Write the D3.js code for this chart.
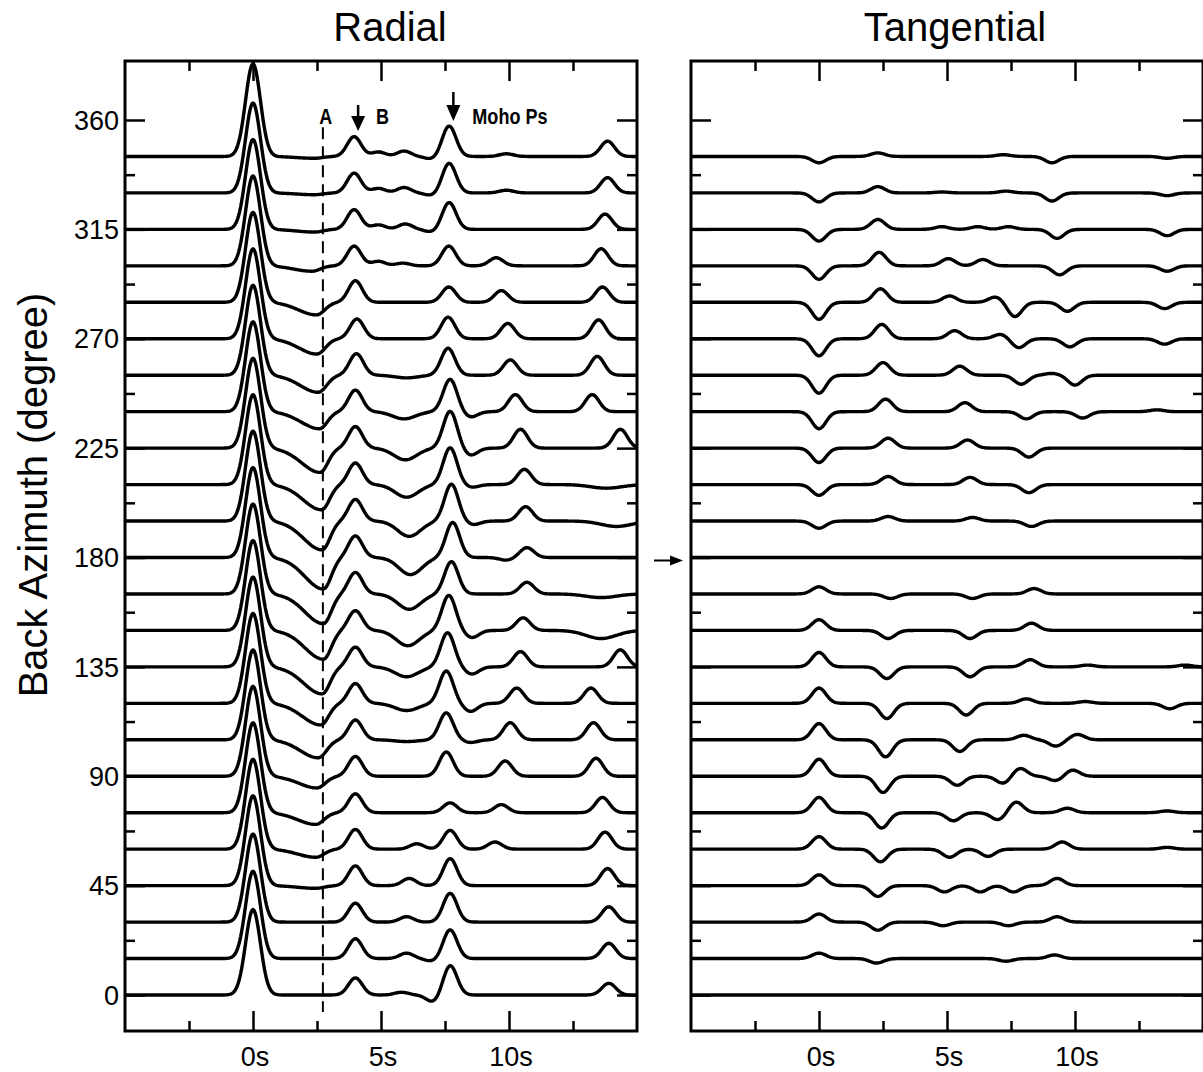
<!DOCTYPE html>
<html>
<head>
<meta charset="utf-8">
<script src="https://cdn.jsdelivr.net/npm/d3@7"></script>
<style>
  body { margin: 0; background: #fff; }
  svg { display: block; }
  text { font-family: "Liberation Sans", Arial, Helvetica, sans-serif; fill: #000; }
</style>
</head>
<body>
<script>
// Back azimuth of each stacked trace (degrees)
const backAzimuth = [0, 15, 30, 45, 60, 75, 90, 105, 120, 135, 150, 165,
                     180, 195, 210, 225, 240, 255, 270, 285, 300, 315, 330, 345];

// Axis labels
const azLabels = [0, 45, 90, 135, 180, 225, 270, 315, 360];
const timeLabels = [0, 5, 10];

// Arrivals on each radial trace: [time (s), amplitude (direct P = 1), width left (s), width right (s)]
const radialArrivals = [
  [[0, 0.95, 0.29], [4.0, 0.19], [5.8, 0.03], [7.05, -0.08], [7.7, 0.33], [13.9, 0.13]],
  [[0, 0.97, 0.29], [4.0, 0.22], [6.0, 0.06], [7.0, -0.03], [7.7, 0.32], [13.9, 0.17]],
  [[0, 0.98, 0.29], [4.0, 0.21], [6.0, 0.06], [7.7, 0.32], [13.9, 0.17]],
  [[0, 1.0, 0.29], [2.45, -0.03, 0.7, 0.32], [4.0, 0.22], [6.1, 0.08], [7.7, 0.3], [13.85, 0.19]],
  [[0, 1.0, 0.29], [2.45, -0.09, 0.7, 0.32], [4.0, 0.22], [6.4, 0.06], [7.7, 0.21], [9.45, 0.08], [13.75, 0.19]],
  [[0, 1.0, 0.29], [2.45, -0.13, 0.7, 0.32], [4.0, 0.21], [7.7, 0.11], [9.7, 0.09], [13.65, 0.17]],
  [[0, 1.0, 0.29], [2.5, -0.13, 0.7, 0.32], [4.0, 0.22], [7.55, 0.27], [9.85, 0.17], [13.4, 0.2]],
  [[0, 1.0, 0.29], [2.55, -0.2, 0.7, 0.32], [4.0, 0.22], [6.0, -0.02, 0.45], [7.55, 0.3], [8.5, -0.03], [10.05, 0.19], [13.3, 0.19]],
  [[0, 1.0, 0.29], [2.65, -0.24, 0.72, 0.3], [4.0, 0.22], [6.0, -0.08, 0.45], [7.55, 0.36], [8.5, -0.09], [10.3, 0.17], [13.2, 0.17]],
  [[0, 1.0, 0.29], [2.7, -0.3, 0.72, 0.3], [4.0, 0.22], [6.0, -0.11, 0.45], [7.6, 0.38], [8.55, -0.08], [10.45, 0.17], [14.35, 0.19]],
  [[0, 1.0, 0.29], [2.75, -0.32, 0.72, 0.3], [4.0, 0.22], [6.05, -0.17, 0.45], [7.65, 0.39], [8.55, -0.08], [10.55, 0.14], [13.6, -0.09, 0.6]],
  [[0, 1.0, 0.29], [2.75, -0.33, 0.72, 0.3], [4.0, 0.24], [6.1, -0.17, 0.45], [7.75, 0.36], [10.7, 0.13], [13.6, -0.04, 0.6]],
  [[0, 1.0, 0.29], [2.75, -0.35, 0.72, 0.3], [4.0, 0.24], [6.15, -0.19, 0.45], [7.8, 0.39], [9.9, -0.03], [10.7, 0.11]],
  [[0, 1.0, 0.29], [2.7, -0.32, 0.72, 0.3], [4.0, 0.24], [6.1, -0.17, 0.45], [7.75, 0.41], [8.6, -0.04], [10.65, 0.16], [14.2, -0.06, 0.6]],
  [[0, 1.0, 0.29], [2.68, -0.28, 0.72, 0.3], [4.0, 0.24], [6.0, -0.14, 0.45], [7.7, 0.41], [8.55, -0.03], [10.6, 0.17], [13.8, -0.04, 0.6]],
  [[0, 1.0, 0.29], [2.62, -0.27, 0.72, 0.3], [4.0, 0.24], [5.95, -0.13, 0.45], [7.7, 0.41], [8.5, -0.08], [10.45, 0.21], [14.35, 0.21]],
  [[0, 1.0, 0.29], [2.6, -0.19, 0.72, 0.3], [4.0, 0.24], [5.9, -0.08, 0.45], [7.7, 0.36], [8.5, -0.06], [10.25, 0.19], [13.25, 0.19]],
  [[0, 1.0, 0.29], [2.55, -0.19, 0.7, 0.32], [4.04, 0.24], [6.0, -0.03, 0.45], [7.62, 0.3], [10.05, 0.17], [13.45, 0.21]],
  [[0, 1.0, 0.29], [2.5, -0.17, 0.7, 0.32], [4.06, 0.22], [7.62, 0.24], [9.95, 0.17], [13.5, 0.21]],
  [[0, 1.0, 0.29], [2.48, -0.14, 0.7, 0.32], [4.0, 0.24], [7.65, 0.17], [9.7, 0.13], [13.65, 0.17]],
  [[0, 1.0, 0.29], [2.3, -0.06, 0.7, 0.32], [3.95, 0.22], [4.9, 0.05], [5.85, 0.03], [7.65, 0.22], [9.5, 0.09], [13.6, 0.19]],
  [[0, 1.0, 0.29], [2.4, -0.03, 0.7, 0.32], [3.95, 0.22], [4.9, 0.05], [5.95, 0.06], [7.0, -0.03], [7.66, 0.3], [13.75, 0.17]],
  [[0, 1.0, 0.29], [2.4, -0.02, 0.7, 0.32], [3.95, 0.22], [4.9, 0.05], [5.9, 0.06], [7.0, -0.03], [7.66, 0.33], [9.9, 0.03], [13.85, 0.17]],
  [[0, 1.03, 0.29], [2.4, -0.02, 0.7, 0.32], [3.95, 0.22], [4.9, 0.05], [5.9, 0.06], [7.0, -0.03], [7.66, 0.34], [9.9, 0.03], [13.85, 0.17]]
];

// Arrivals on each tangential trace (same units)
const tangentialArrivals = [
  [],
  [[0, 0.06], [2.25, -0.05], [7.3, -0.03], [9.2, 0.04]],
  [[0, 0.09], [2.3, -0.09], [4.85, -0.04], [7.4, -0.04], [9.3, 0.06]],
  [[0, 0.12], [2.3, -0.12], [4.9, -0.07], [6.3, -0.07], [7.6, -0.07], [9.3, 0.08]],
  [[0, 0.14], [2.4, -0.14], [5.1, -0.09], [6.6, -0.08], [9.5, 0.08], [13.6, 0.02]],
  [[0, 0.17], [2.45, -0.17], [5.25, -0.09], [7.0, -0.08], [7.7, 0.12], [9.7, 0.05], [13.6, 0.02]],
  [[0, 0.19], [2.5, -0.18], [5.4, -0.1], [7.2, -0.08], [7.85, 0.09], [9.25, -0.05], [9.9, 0.07]],
  [[0, 0.18], [2.6, -0.19], [5.5, -0.13], [8.0, 0.05], [9.25, -0.07], [10.1, 0.06]],
  [[0, 0.17], [2.65, -0.17], [5.75, -0.13], [8.1, 0.05], [10.4, 0.02], [13.7, -0.06]],
  [[0, 0.16], [2.65, -0.13], [5.9, -0.11], [8.25, 0.08], [10.5, 0.02], [14.3, 0.02]],
  [[0, 0.12], [2.7, -0.09], [5.9, -0.09], [8.3, 0.08]],
  [[0, 0.08], [2.8, -0.05], [6.0, -0.05], [8.4, 0.06]],
  [],
  [[0, -0.08], [2.7, 0.05], [6.0, 0.04], [8.3, -0.06]],
  [[0, -0.12], [2.7, 0.09], [5.9, 0.08], [8.2, -0.09]],
  [[0, -0.16], [2.7, 0.11], [5.8, 0.09], [8.2, -0.1]],
  [[0, -0.19], [2.6, 0.14], [5.7, 0.1], [8.1, -0.08], [10.3, -0.07], [13.2, 0.02]],
  [[0, -0.2], [2.5, 0.14], [5.5, 0.1], [7.9, -0.1], [9.1, 0.02], [10.0, -0.11]],
  [[0, -0.19], [2.45, 0.16], [5.3, 0.09], [7.1, 0.05], [7.8, -0.1], [9.8, -0.09], [13.5, -0.06]],
  [[0, -0.19], [2.4, 0.15], [5.1, 0.07], [6.9, 0.06], [7.65, -0.16], [9.7, -0.1], [13.5, -0.07]],
  [[0, -0.15], [2.35, 0.15], [5.05, 0.08], [6.4, 0.07], [9.4, -0.1], [13.6, -0.06]],
  [[0, -0.13], [2.3, 0.11], [4.8, 0.03], [6.2, 0.03], [7.4, 0.03], [9.3, -0.1], [13.6, -0.07]],
  [[0, -0.1], [2.3, 0.07], [4.8, 0.01], [7.3, 0.02], [9.1, -0.09], [13.6, -0.03]],
  [[0, -0.07], [2.3, 0.04], [7.2, 0.02], [9.1, -0.07], [13.6, -0.02]]
];

// Marked phases on the radial panel (s)
const phaseA = 2.73, phaseB = 3.95, phaseMoho = 7.67;

var width = 1203, height = 1072;
var svg = d3.select("body").append("svg")
    .attr("width", width)
    .attr("height", height);

// panel geometry
var panels = [
  {name: "Radial", left: 125, right: 637, data: radialArrivals, titleX: 390},
  {name: "Tangential", left: 691, right: 1203, data: tangentialArrivals, titleX: 955}
];
var plotTop = 61, plotBottom = 1031;

var y = d3.scaleLinear().domain([0, 360]).range([995, 120]);
var gain = 37;   // degrees of azimuth per unit amplitude
var timeGrid = d3.range(-5, 15.0001, 0.04);

function pulse(t, a) {
  var w = t < a[0] ? (a[2] || 0.27) : (a[3] || a[2] || 0.27);
  var u = (t - a[0]) / w;
  return a[1] * Math.exp(-0.5 * u * u);
}

panels.forEach(function(p, pi) {
  var x = d3.scaleLinear().domain([-5, 15]).range([p.left, p.right]);
  var g = svg.append("g");

  g.append("clipPath").attr("id", "clip" + pi)
    .append("rect")
      .attr("x", p.left).attr("y", plotTop)
      .attr("width", p.right - p.left).attr("height", plotBottom - plotTop);

  // Traces
  var line = d3.line()
      .x(d => x(d[0]))
      .y(d => y(d[1]));

  g.append("g").attr("clip-path", "url(#clip" + pi + ")")
    .selectAll("path").data(backAzimuth).enter()
    .append("path")
      .attr("fill", "none")
      .attr("stroke", "#000")
      .attr("stroke-width", 3.4)
      .attr("stroke-linejoin", "round")
      .attr("d", (az, i) => line(timeGrid.map(t =>
          [t, az + gain * d3.sum(p.data[i], a => pulse(t, a))])));

  // Ticks (inward) on all four sides
  function tickAxis(axis, values, size, tr) {
    var a = g.append("g")
      .attr("transform", tr)
      .call(axis.tickValues(values).tickSize(size).tickFormat(""));
    a.select(".domain").remove();
    a.selectAll("line").attr("stroke-width", 2.5);
    return a;
  }
  tickAxis(d3.axisBottom(x), [0, 5, 10], -20, `translate(0,${plotBottom})`);
  tickAxis(d3.axisBottom(x), [-2.5, 2.5, 7.5, 12.5], -10, `translate(0,${plotBottom})`);
  tickAxis(d3.axisTop(x), [0, 5, 10], -20, `translate(0,${plotTop})`);
  tickAxis(d3.axisTop(x), [-2.5, 2.5, 7.5, 12.5], -10, `translate(0,${plotTop})`);
  var minorAz = azLabels.slice(0, 8).map(v => v + 22.5);
  tickAxis(d3.axisLeft(y), azLabels, -20, `translate(${p.left},0)`);
  tickAxis(d3.axisLeft(y), minorAz, -10, `translate(${p.left},0)`);
  tickAxis(d3.axisRight(y), azLabels, -20, `translate(${p.right},0)`);
  tickAxis(d3.axisRight(y), minorAz, -10, `translate(${p.right},0)`);

  // time labels
  g.selectAll(".tlab").data(timeLabels).enter()
    .append("text")
      .attr("x", d => x(d) + 2)
      .attr("y", 1066)
      .attr("text-anchor", "middle")
      .attr("font-size", 27)
      .text(d => d + "s");

  // frame
  g.append("rect")
    .attr("x", p.left).attr("y", plotTop)
    .attr("width", p.right - p.left).attr("height", plotBottom - plotTop)
    .attr("fill", "none").attr("stroke", "#000").attr("stroke-width", 3);

  // title
  svg.append("text")
    .attr("x", p.titleX).attr("y", 41)
    .attr("text-anchor", "middle")
    .attr("font-size", 40)
    .text(p.name);

  if (pi == 0) {
    // Azimuth labels
    g.selectAll(".alab").data(azLabels).enter()
      .append("text")
        .attr("x", p.left - 6)
        .attr("y", d => y(d))
        .attr("dy", "0.36em")
        .attr("text-anchor", "end")
        .attr("font-size", 27)
        .text(d => d);

    // dashed line through phase A
    g.append("line")
      .attr("x1", x(phaseA)).attr("x2", x(phaseA))
      .attr("y1", y(357)).attr("y2", y(-7))
      .attr("stroke", "#000").attr("stroke-width", 2)
      .attr("stroke-dasharray", "12,7");

    // phase labels and arrows
    var ann = g.append("g").attr("font-weight", "bold").attr("font-size", 22);
    ann.append("text")
      .attr("transform", `translate(${x(phaseA) + 3},124) scale(0.82,1)`)
      .attr("text-anchor", "middle").text("A");
    ann.append("text")
      .attr("transform", `translate(${x(phaseB) + 22},124) scale(0.82,1)`)
      .text("B");
    ann.append("text")
      .attr("transform", `translate(${x(phaseMoho) + 23},124) scale(0.82,1)`)
      .text("Moho Ps");

    function arrow(cx, y0, y1, headLen) {
      ann.append("line")
        .attr("x1", cx).attr("x2", cx).attr("y1", y0).attr("y2", y1 - headLen)
        .attr("stroke", "#000").attr("stroke-width", 2.5);
      ann.append("path")
        .attr("d", `M${cx - 7},${y1 - headLen} L${cx + 7},${y1 - headLen} L${cx},${y1} Z`)
        .attr("fill", "#000");
    }
    arrow(x(phaseB) + 4, 105, 131, 15);
    arrow(x(phaseMoho) + 4, 92, 121, 16);
  } else {
    // arrow marking the 180 degree trace
    var ay = y(180) + 3;
    g.append("line")
      .attr("x1", 654).attr("x2", 672).attr("y1", ay).attr("y2", ay)
      .attr("stroke", "#000").attr("stroke-width", 2);
    g.append("path")
      .attr("d", `M670,${ay - 5} L683,${ay} L670,${ay + 5} Z`)
      .attr("fill", "#000");
  }
});

// y axis title
svg.append("text")
  .attr("transform", "translate(47,495) rotate(-90)")
  .attr("text-anchor", "middle")
  .attr("font-size", 40)
  .text("Back Azimuth (degree)");
</script>
</body>
</html>
